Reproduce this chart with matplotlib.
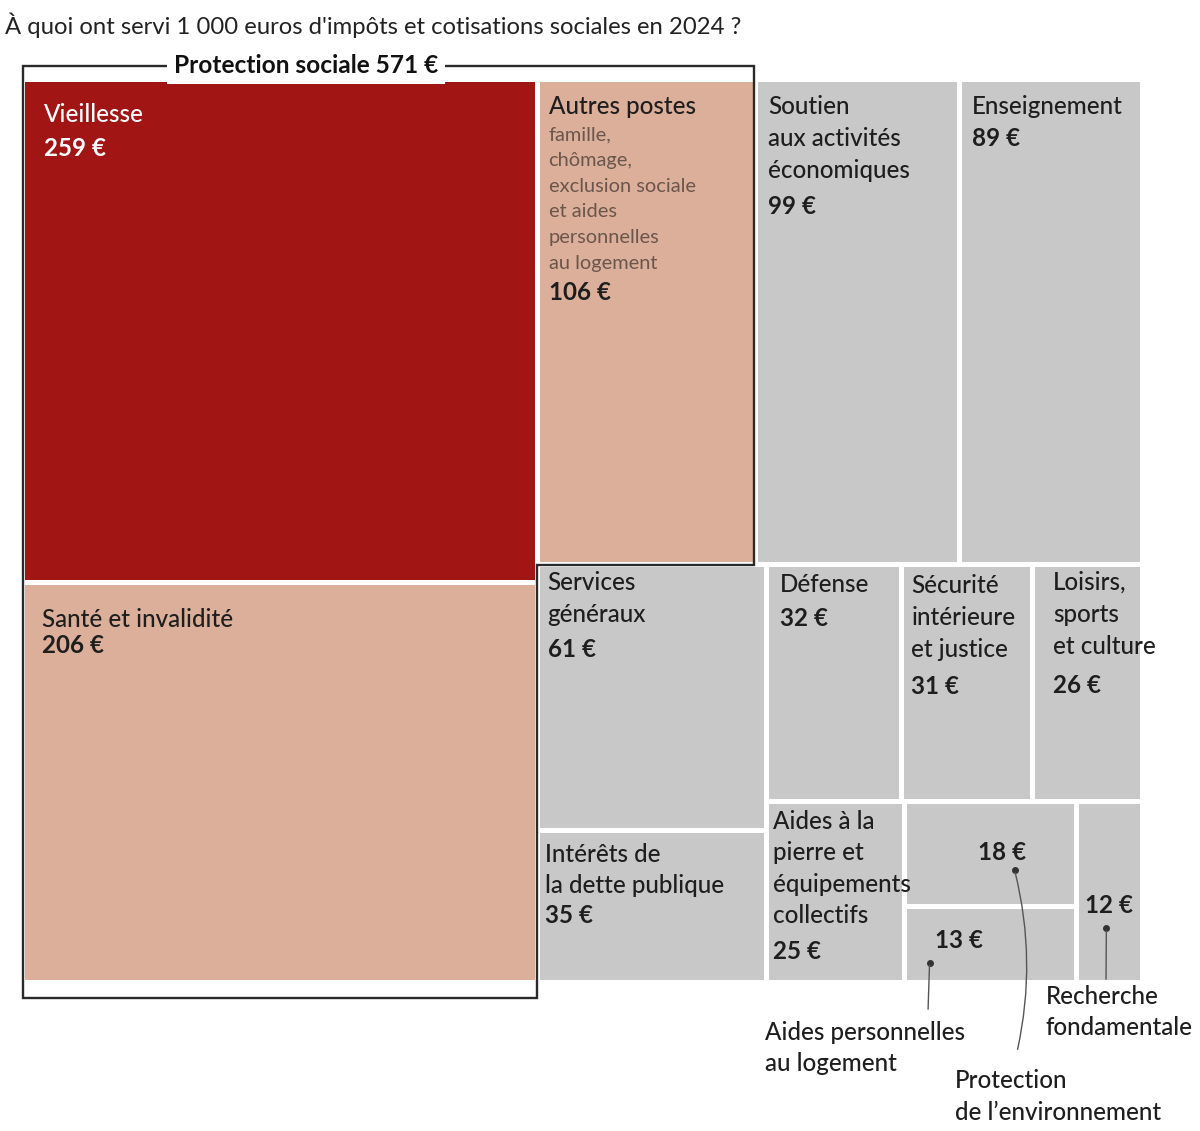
import matplotlib.pyplot as plt
from matplotlib.patches import Rectangle, Polygon

plt.rcParams['font.family'] = ['Lato', 'DejaVu Sans']

title = "À quoi ont servi 1 000 euros d'impôts et cotisations sociales en 2024 ?"
group_title = "Protection sociale 571 €"

# postes de dépense, en euros pour 1 000 euros
keys = ['vieil', 'sante', 'autres', 'soutien', 'ens', 'serv', 'dette',
        'def', 'secu', 'loisirs', 'pierre', 'env', 'apl', 'rech']
names = ["Vieillesse", "Santé et invalidité", "Autres postes",
         "Soutien\naux activités\néconomiques", "Enseignement",
         "Services\ngénéraux", "Intérêts de\nla dette publique", "Défense",
         "Sécurité\nintérieure\net justice", "Loisirs,\nsports\net culture",
         "Aides à la\npierre et\néquipements\ncollectifs",
         "", "", ""]
values = [259, 206, 106, 99, 89, 61, 35, 32, 31, 26, 25, 18, 13, 12]
autres_detail = "famille,\nchômage,\nexclusion sociale\net aides\npersonnelles\nau logement"
callouts = {'apl': "Aides personnelles\nau logement",
            'env': "Protection\nde l’environnement",
            'rech': "Recherche\nfondamentale"}

val = dict(zip(keys, values))
name = dict(zip(keys, names))

# arrangement du treemap : 'h' = côte à côte, 'v' = empilé
tree = ('h', [('v', ['vieil', 'sante']),
              ('v', [('h', ['autres', 'soutien', 'ens']),
                     ('h', [('v', ['serv', 'dette']),
                            ('v', [('h', ['def', 'secu', 'loisirs']),
                                   ('h', ['pierre', ('v', ['env', 'apl']), 'rech'])])])])])

DARK_RED = '#a21515'
PINK = '#dcaf9a'
GREY = '#c8c8c8'
TXT = '#1e1e1e'
colors = {'vieil': DARK_RED, 'sante': PINK, 'autres': PINK}


def total(node):
    if isinstance(node, str):
        return val[node]
    return sum(total(c) for c in node[1])


def layout(node, x, y, w, h, out):
    if isinstance(node, str):
        out[node] = (x, y, w, h)
        return
    kind, children = node
    t = total(node)
    for c in children:
        f = total(c) / t
        if kind == 'h':
            layout(c, x, y, w * f, h, out)
            x += w * f
        else:
            layout(c, x, y, w, h * f, out)
            y += h * f


X0, Y0, X1, Y1 = 22.5, 79.5, 1142.5, 982.5
rects = {}
layout(tree, X0, Y0, X1 - X0, Y1 - Y0, rects)

fig = plt.figure(figsize=(12, 11.31), dpi=100)
ax = fig.add_axes([0, 0, 1, 1])
ax.set_xlim(0, 1200)
ax.set_ylim(1131, 0)
ax.axis('off')

gap = 5
for k in keys:
    x, y, w, h = rects[k]
    ax.add_patch(Rectangle((x + gap / 2, y + gap / 2), w - gap, h - gap,
                           facecolor=colors.get(k, GREY), edgecolor='none'))

# cadre "Protection sociale"
xa, ya, wa, ha = rects['autres']
xs, ys, ws, hs = rects['sante']
outline = [(X0, Y0 - 14), (xa + wa - 1, Y0 - 14), (xa + wa - 1, ya + ha),
           (xs + ws, ya + ha), (xs + ws, Y1 + 15), (X0, Y1 + 15)]
ax.add_patch(Polygon(outline, closed=True, fill=False, edgecolor='#2a2a2a', lw=1.7))
ax.text(306, Y0 - 14, group_title, ha='center', va='center', fontsize=17.6,
        fontweight='bold', color='#111111',
        bbox=dict(facecolor='white', edgecolor='none', pad=5))

ax.text(5, 25, title, ha='left', va='center', fontsize=17.2, color='#222222')

# étiquettes des cases : (décalage x, décalage y, interligne, écart valeur)
label_pos = {'vieil': (19, 32, 32, 34), 'sante': (17, 35, 32, 26),
             'autres': (9, 24, 32, 0), 'soutien': (10, 24, 32, 37),
             'ens': (10, 24, 32, 32), 'serv': (8, 15, 32, 35),
             'dette': (5, 22, 31, 30), 'def': (11, 17, 32, 34),
             'secu': (7, 18, 32, 37), 'loisirs': (18, 15, 32, 39),
             'pierre': (4, 17, 31.5, 36)}
fs = 17.4
for k, (dx, dy, lh, vg) in label_pos.items():
    x, y, w, h = rects[k]
    tx, ty = x + gap / 2 + dx, y + gap / 2 + dy
    col = 'white' if k == 'vieil' else TXT
    lines = name[k].split('\n')
    for i, line in enumerate(lines):
        ax.text(tx, ty + i * lh, line, ha='left', va='center', fontsize=fs,
                color=col, fontweight='medium')
    vy = ty + (len(lines) - 1) * lh + vg
    if k == 'autres':
        sub = autres_detail.split('\n')
        for i, line in enumerate(sub):
            ax.text(tx, ty + 29 + i * 25.6, line, ha='left', va='center',
                    fontsize=14.4, color='#6a564c')
        vy = ty + 29 + (len(sub) - 1) * 25.6 + 29
    ax.text(tx, vy, f"{val[k]} €", ha='left', va='center', fontsize=fs,
            fontweight='bold', color=col)

# petites cases avec renvois
small = {'env': ((11, -2), (24, 16), (1017, 1052), (955, 1081), 0.12),
         'apl': ((-32, -4), (-61, 18), (928, 1012), (765, 1032), 0.0),
         'rech': ((0, 13), (-3, 36), (1106, 982), (1046, 996), 0.0)}
for k, (toff, doff, lend, lpos, rad) in small.items():
    x, y, w, h = rects[k]
    cx, cy = x + w / 2, y + h / 2
    ax.text(cx + toff[0], cy + toff[1], f"{val[k]} €", ha='center', va='center',
            fontsize=fs, fontweight='bold', color=TXT)
    px, py = cx + doff[0], cy + doff[1]
    ax.plot(px, py, 'o', ms=4, color='#333333')
    ax.annotate('', xy=(px, py), xytext=lend,
                arrowprops=dict(arrowstyle='-', color='#555555', lw=1,
                                connectionstyle=f'arc3,rad={rad}'))
    for i, line in enumerate(callouts[k].split('\n')):
        ax.text(lpos[0], lpos[1] + i * 31.5, line, ha='left', va='center',
                fontsize=fs, color=TXT, fontweight='medium')

fig.savefig('out.png', dpi=100, facecolor='white')
